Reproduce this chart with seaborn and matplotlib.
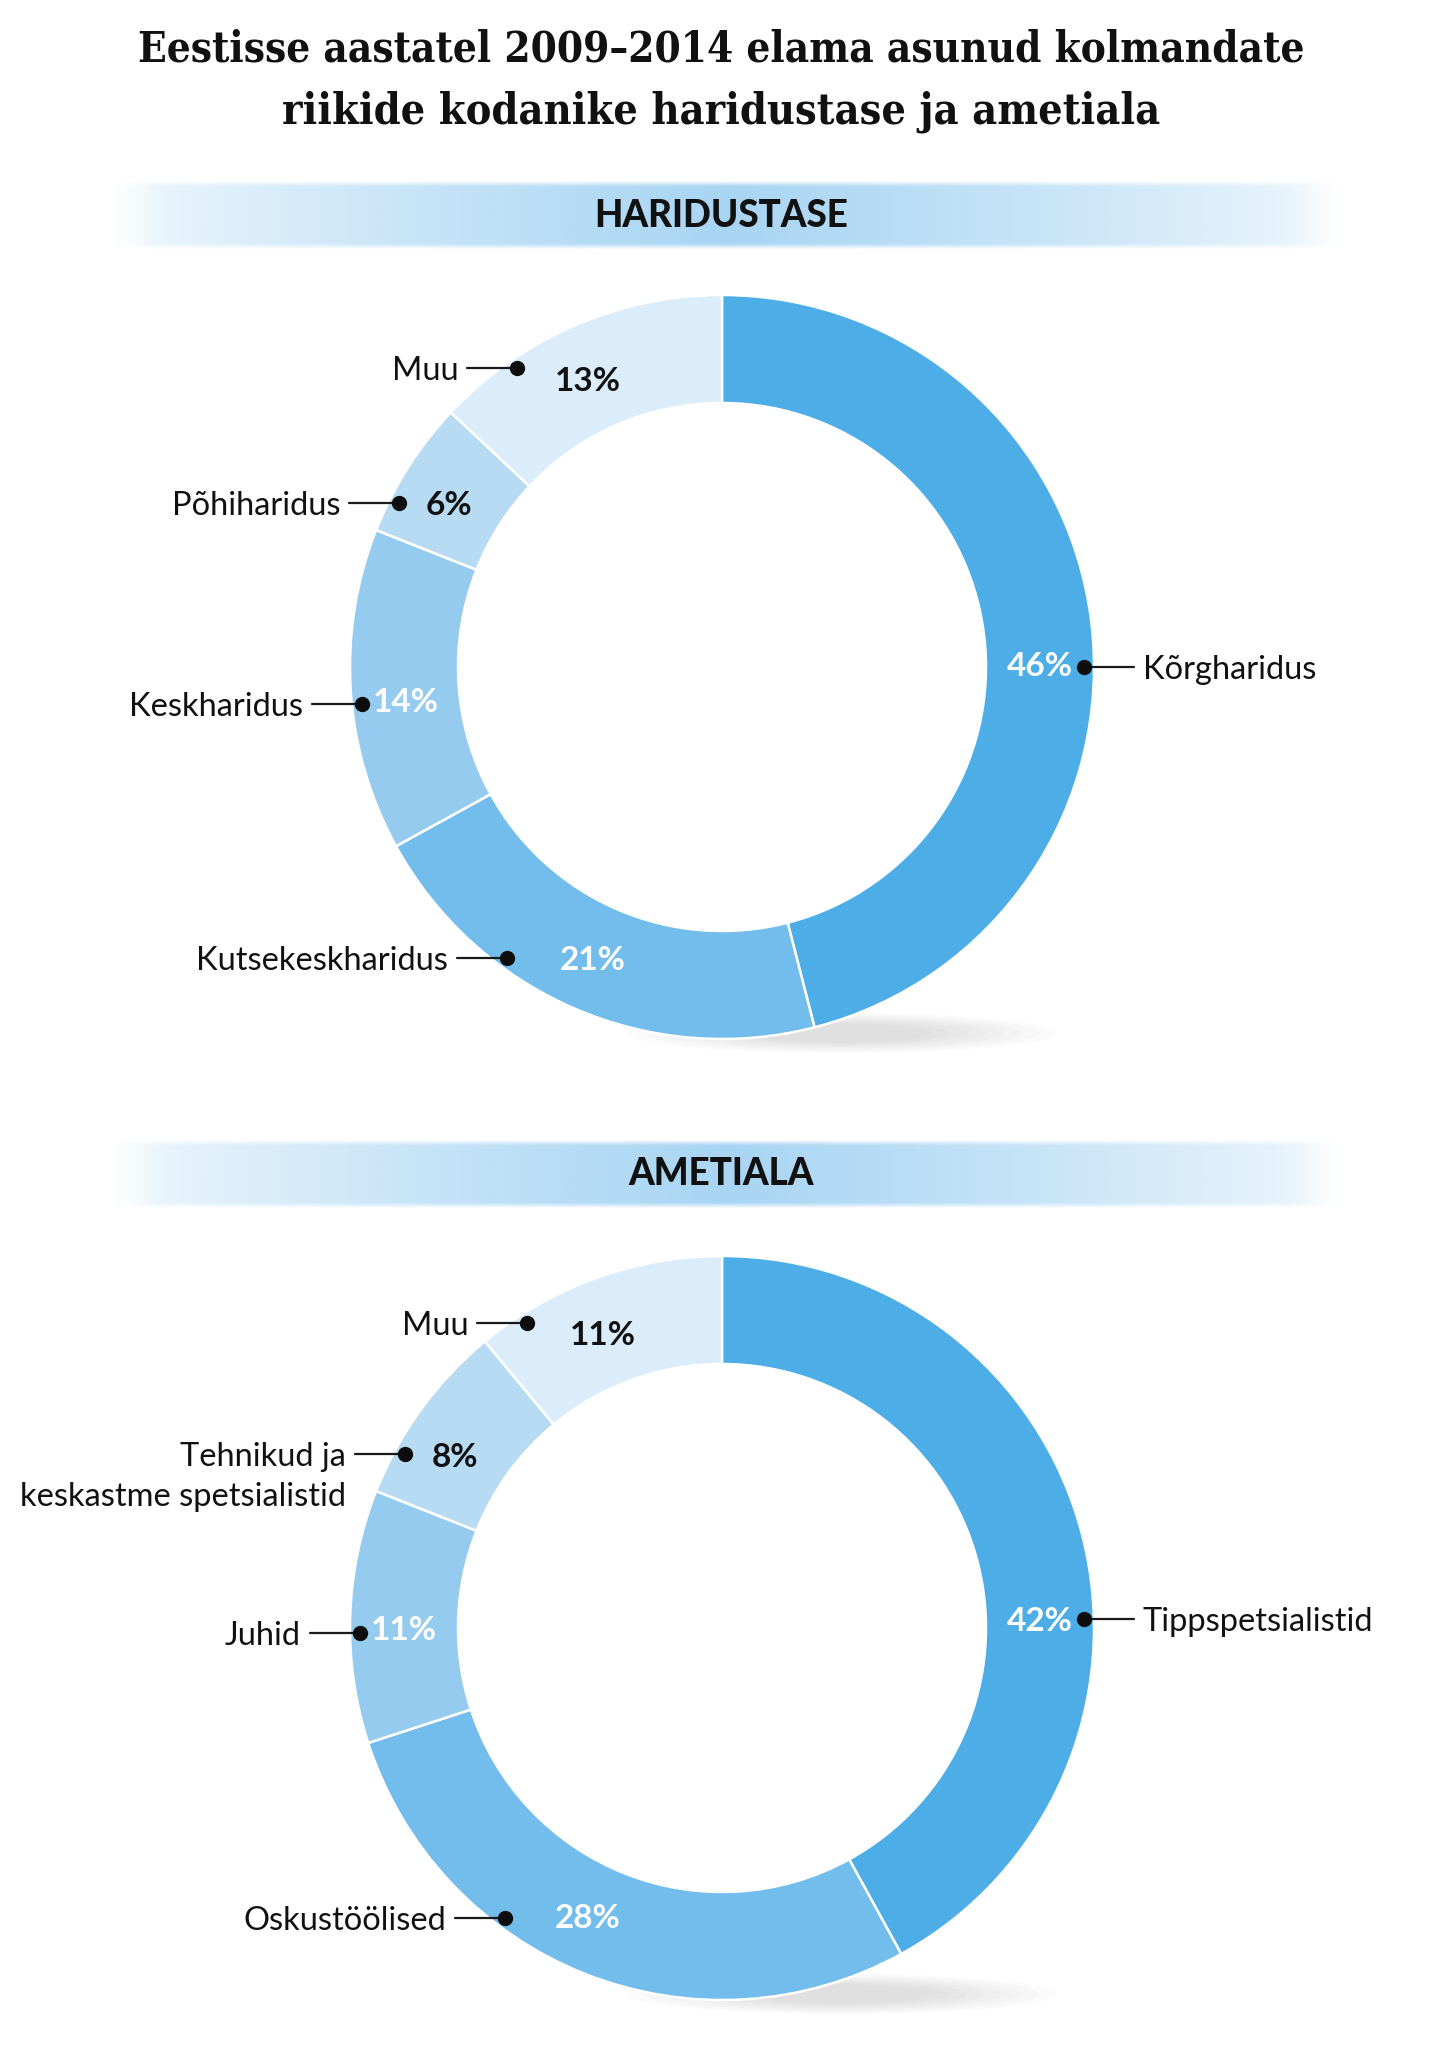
import numpy as np
import matplotlib
matplotlib.use("Agg")
import matplotlib.pyplot as plt
import seaborn as sns
from matplotlib.patches import Ellipse
from matplotlib.colors import to_rgb

# ---------------- data ----------------
title_lines = ["Eestisse aastatel 2009–2014 elama asunud kolmandate",
               "riikide kodanike haridustase ja ametiala"]

edu_title = "HARIDUSTASE"
edu_labels = ["Kõrgharidus", "Kutsekeskharidus", "Keskharidus", "Põhiharidus", "Muu"]
edu_values = [46, 21, 14, 6, 13]

occ_title = "AMETIALA"
occ_labels = ["Tippspetsialistid", "Oskustöölised", "Juhid",
              "Tehnikud ja\nkeskastme spetsialistid", "Muu"]
occ_values = [42, 28, 11, 8, 11]

ring_colors = ["#4DADE7", "#72BDEC", "#96CBF0", "#B8DBF4", "#DBEDFA"]
pct_colors = ["white", "white", "white", "#111111", "#111111"]

# ---------------- layout (pixels, top-down) ----------------
W, H = 1442, 2063
CX = 722
R_OUT, R_IN = 372, 264
R_DOT, R_PCT = 362, 318
LEAD, GAP, LINE_H = 50, 9, 40

edu_cy, occ_cy = 667, 1628
edu_dot_ang = [0, 233.5, 185.8, 153.0, 124.4]
edu_pct_ang = [0.5, 246, 186, 149, 115]
occ_dot_ang = [1.5, 233.2, 180.8, 151.2, 122.5]
occ_pct_ang = [1.7, 245, 180, 147, 112]

sns.set_theme(style="white")
plt.rcParams['font.family'] = ['Lato', 'DejaVu Sans']

fig = plt.figure(figsize=(W / 100, H / 100), dpi=100)
fig.patch.set_facecolor("white")
ax = fig.add_axes([0, 0, 1, 1])
renderer = fig.canvas.get_renderer()


def fit_text(x, y, s, width, **kw):
    t = ax.text(x, y, s, **kw)
    w = t.get_window_extent(renderer).width
    t.set_fontsize(t.get_fontsize() * width / w)
    return t


# title
for s, y, wdt in [(title_lines[0], 50, 1171), (title_lines[1], 112, 878)]:
    fit_text(W / 2, H - y, s, wdt, ha='center', va='center', fontsize=26,
             fontweight='bold', family='DejaVu Serif', fontstretch='condensed',
             color='#111111')


def banner(y_top, y_bot, text, text_y):
    x0, x1 = 112, 1342
    n = 800
    xs = np.linspace(x0, x1, n)
    mid = 727.0
    d = np.abs(xs - mid) / (x1 - mid if False else 615.0)
    d = np.clip(d, 0, 1)
    prof = 0.12 + 0.88 * (1 - d) ** 0.75
    edge = np.clip((xs - x0) / 45, 0, 1) * np.clip((x1 - xs) / 45, 0, 1)
    prof = prof * edge
    m = 40
    ys = np.linspace(0, 1, m)
    ay = np.clip(ys / 0.08, 0, 1) * np.clip((1 - ys) / 0.08, 0, 1)
    alpha = ay[:, None] * prof[None, :]
    rgba = np.zeros((m, n, 4))
    rgba[..., :3] = to_rgb("#A8D5F3")
    rgba[..., 3] = alpha
    ax.imshow(rgba, extent=(x0, x1, H - y_bot, H - y_top), aspect='auto',
              interpolation='bilinear', zorder=1)
    ax.text(W / 2, H - text_y, text, ha='center', va='center', fontsize=26.5,
            fontweight='black', color='#111111', zorder=3)


banner(180, 250, edu_title, 216)
banner(1139, 1209, occ_title, 1174)


def donut(cy_top, labels, values, dot_ang, pct_ang):
    cx, cy = CX, H - cy_top
    # soft shadow
    for k in range(8):
        ax.add_patch(Ellipse((cx + 120, cy - R_OUT + 6), 430 - k * 36, 40 - k * 3,
                             color='#666666', alpha=0.022, lw=0, zorder=1.5))
    ax.pie(values, colors=ring_colors, startangle=90, counterclock=False,
           radius=R_OUT, center=(cx, cy), frame=True,
           wedgeprops=dict(width=R_OUT - R_IN, edgecolor='white', linewidth=1.8, zorder=2))
    for lab, val, da, pa, pc in zip(labels, values, dot_ang, pct_ang, pct_colors):
        a = np.deg2rad(da)
        dx, dy = cx + R_DOT * np.cos(a), cy + R_DOT * np.sin(a)
        side = 1 if np.cos(a) > 0 else -1
        ax.plot([dx, dx + side * LEAD], [dy, dy], color='#1a1a1a', lw=1.6, zorder=5)
        ax.plot([dx], [dy], 'o', color='#0d0d0d', ms=10, zorder=6)
        for i, ln in enumerate(lab.split('\n')):
            ax.text(dx + side * (LEAD + GAP), dy - i * LINE_H, ln,
                    ha='left' if side > 0 else 'right', va='center_baseline',
                    fontsize=23.5, color='#111111', zorder=6)
        b = np.deg2rad(pa)
        ax.text(cx + R_PCT * np.cos(b), cy + R_PCT * np.sin(b), f"{val}%",
                ha='center', va='center_baseline', fontsize=24, fontweight='bold',
                color=pc, zorder=6)


donut(edu_cy, edu_labels, edu_values, edu_dot_ang, edu_pct_ang)
donut(occ_cy, occ_labels, occ_values, occ_dot_ang, occ_pct_ang)

ax.set_xlim(0, W)
ax.set_ylim(0, H)
ax.set_aspect('auto')
ax.axis('off')

fig.savefig("out.png", dpi=100, facecolor="white")
